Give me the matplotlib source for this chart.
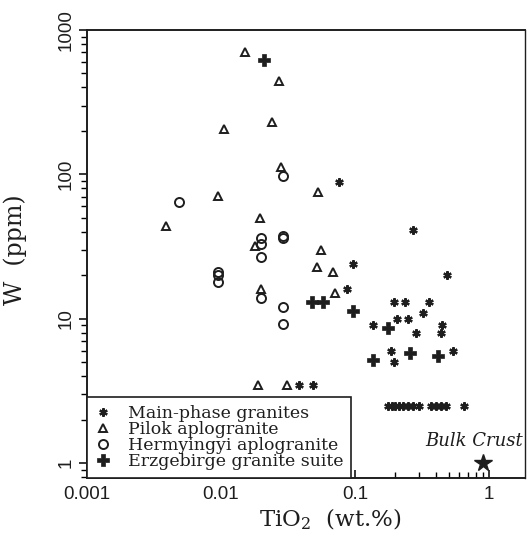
import numpy as np
import matplotlib
matplotlib.use("Agg")
import matplotlib.pyplot as plt

plt.rcParams['mathtext.fontset'] = 'dejavuserif'

# Main-phase granites (asterisks)
main_x = [0.038, 0.049, 0.076, 0.087, 0.097, 0.136, 0.195, 0.236, 0.36, 0.32,
          0.205, 0.25, 0.45, 0.44, 0.285, 0.186, 0.54, 0.195, 0.27, 0.49,
          0.176, 0.19, 0.20, 0.215, 0.23, 0.25, 0.27, 0.30,
          0.37, 0.40, 0.44, 0.48, 0.65]
main_y = [3.5, 3.5, 89, 16, 24, 9.0, 13, 13, 13, 11,
          9.9, 9.9, 9.0, 8.0, 8.0, 6.0, 6.0, 5.0, 41, 20,
          2.5, 2.5, 2.5, 2.5, 2.5, 2.5, 2.5, 2.5,
          2.5, 2.5, 2.5, 2.5, 2.5]

# Pilok aplogranite (open triangles)
pilok_x = [0.015, 0.027, 0.024, 0.0105, 0.028, 0.0095, 0.0039, 0.0195, 0.018,
           0.02, 0.019, 0.031, 0.053, 0.056, 0.052, 0.069, 0.071]
pilok_y = [700, 440, 230, 205, 112, 71, 44, 50, 32,
           16, 3.5, 3.5, 76, 30, 23, 21, 15]

# Hermyingyi aplogranite (open circles)
herm_x = [0.029, 0.0049, 0.02, 0.02, 0.02, 0.029, 0.029, 0.0095, 0.0095, 0.0095,
          0.02, 0.029, 0.029]
herm_y = [98, 64, 36, 33, 27, 36, 37.5, 21, 20, 18, 14, 12, 9.2]

# Erzgebirge granite suite (filled crosses)
erz_x = [0.021, 0.048, 0.058, 0.097, 0.176, 0.136, 0.257, 0.42]
erz_y = [620, 13, 13, 11.3, 8.6, 5.2, 5.8, 5.5]

crust_x, crust_y = 0.9, 1.0

ink = '#1e1e1e'
fig = plt.figure(figsize=(5.28, 5.36), dpi=100)
ax = fig.add_axes([87/528, 58/536, 438/528, 448/536])

ax.plot(main_x, main_y, ls='none', marker=(6, 2, 0), ms=6, mew=1.6, color=ink,
        label='Main-phase granites')
ax.plot(pilok_x, pilok_y, ls='none', marker='^', ms=6, mew=1.4, mfc='none', mec=ink,
        label='Pilok aplogranite')
ax.plot(herm_x, herm_y, ls='none', marker='o', ms=6.5, mew=1.4, mfc='none', mec=ink,
        label='Hermyingyi aplogranite')
ax.plot(erz_x, erz_y, ls='none', marker='P', ms=8, mew=0.5, color=ink,
        label='Erzgebirge granite suite')
ax.plot([crust_x], [crust_y], ls='none', marker='*', ms=13, color=ink)
ax.text(0.77, 1.42, 'Bulk Crust', style='italic', family='DejaVu Serif',
        fontsize=13, ha='center', va='center', color=ink)

ax.set_xscale('log')
ax.set_yscale('log')
ax.set_xlim(0.001, 1.86)
ax.set_ylim(0.79, 1000)

ax.set_xticks([0.001, 0.01, 0.1, 1])
ax.set_xticklabels(['0.001', '0.01', '0.1', '1'])
ax.set_yticks([1, 10, 100, 1000])
ax.set_yticklabels(['1', '10', '100', '1000'])
for lab in ax.get_yticklabels():
    lab.set_rotation(90)
    lab.set_va('center')
for lab in ax.get_xticklabels() + ax.get_yticklabels():
    lab.set_family('Liberation Sans')
    lab.set_fontsize(13.5)
    lab.set_color(ink)

ax.tick_params(axis='x', which='major', direction='in', length=6, width=1.1, pad=6)
ax.tick_params(axis='x', which='minor', direction='in', length=4, width=1.0)
ax.tick_params(axis='y', which='major', direction='out', length=6, width=1.1, pad=3)
ax.tick_params(axis='y', which='minor', direction='out', length=4, width=1.0)

for s in ax.spines.values():
    s.set_color(ink)
ax.spines['left'].set_linewidth(1.4)
ax.spines['bottom'].set_linewidth(1.4)
ax.spines['top'].set_linewidth(1.4)
ax.spines['right'].set_linewidth(1.0)

ax.set_ylabel('W  (ppm)', family='DejaVu Serif', fontsize=17, color=ink)
ax.yaxis.set_label_coords(-0.137, 0.51)
ax.set_xlabel('TiO$_2$  (wt.%)', family='DejaVu Serif', fontsize=16.5, color=ink,
              va='center')
ax.xaxis.set_label_coords(0.556, -0.092)

leg = ax.legend(loc='lower left', bbox_to_anchor=(0, 0), borderaxespad=0,
                fancybox=False, framealpha=1, edgecolor=ink, handlelength=1.0,
                handletextpad=0.9, labelspacing=-0.05, borderpad=0.45,
                prop={'family': 'DejaVu Serif', 'size': 12.5})
leg.get_frame().set_linewidth(1.2)
for t in leg.get_texts():
    t.set_color(ink)

fig.savefig('out.png', dpi=100)
